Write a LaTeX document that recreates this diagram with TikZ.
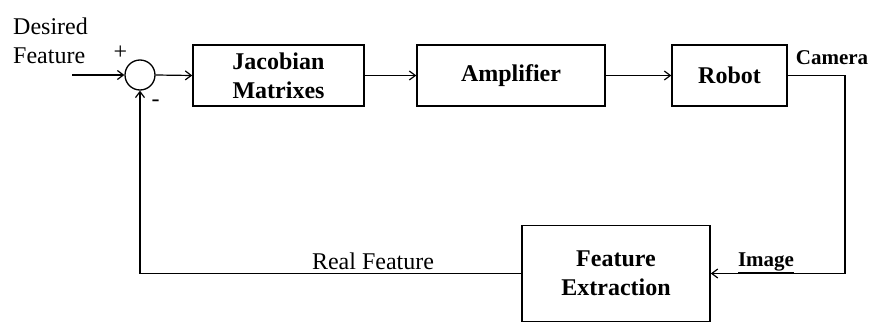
\documentclass[tikz,border=0pt]{standalone}
\usepackage{fontspec}
\setmainfont{Liberation Serif}
\usepackage{tikz}
\usetikzlibrary{positioning, arrows.meta}

\begin{document}
\begin{tikzpicture}[x=1pt, y=-1pt,
        every node/.style={font=\fontsize{24}{29}\selectfont},
        block/.style={draw, line width=1.5pt, minimum height=61pt, align=center,
            inner sep=0pt, font=\fontsize{24}{29}\selectfont\bfseries},
        sig/.style={line width=1.2pt, -{Straight Barb[length=6pt, width=9pt]}},
        wire/.style={line width=1.2pt}]
    \useasboundingbox (0,0) rectangle (874,323);

    % forward path
    \node [draw, circle, line width=1.3pt, minimum size=30pt, inner sep=0pt] (sum) at (140,75) {};
    \node [block, minimum width=171pt] (jac) at (278.5,75.5) {Jacobian\\Matrixes};
    \node [block, minimum width=188pt] (amp) at (511,75.5) {Amplifier};
    \node [block, minimum width=115pt] (robot) at (729.5,75.5) {Robot};

    % feedback path
    \node [block, minimum width=188pt, minimum height=96pt] (fext) at (616,273.5) {Feature\\Extraction};

    \coordinate (in) at (72,75);
    \coordinate (cam) at (845,75.5);

    % labels
    \node [anchor=west, align=left, inner sep=0pt] (desired) at (13,41) {Desired\\Feature};
    \node [inner sep=0pt] (plus) at (120.5,53) {+};
    \node [inner sep=0pt] (minus) at (155.5,103) {-};
    \node [anchor=base, inner sep=0pt, font=\fontsize{21}{25}\selectfont\bfseries] (camlbl) at (832,65) {Camera};
    \node [anchor=base, inner sep=0pt, font=\fontsize{21}{25}\selectfont\bfseries] (imglbl) at (766,266.5) {\underline{Image}};
    \node [anchor=base, inner sep=0pt] (reallbl) at (373,269.5) {Real Feature};

    \draw [sig] (in) -- (sum.west);
    \draw [sig] (sum.east) -- (jac.west);
    \draw [sig] (jac.east) -- (amp.west);
    \draw [sig] (amp.east) -- (robot.west);
    \draw [wire] (robot.east) -- (cam);
    \draw [sig] (cam) |- (fext.east);
    \draw [sig] (fext.west) -| (sum.south);

\end{tikzpicture}
\end{document}
